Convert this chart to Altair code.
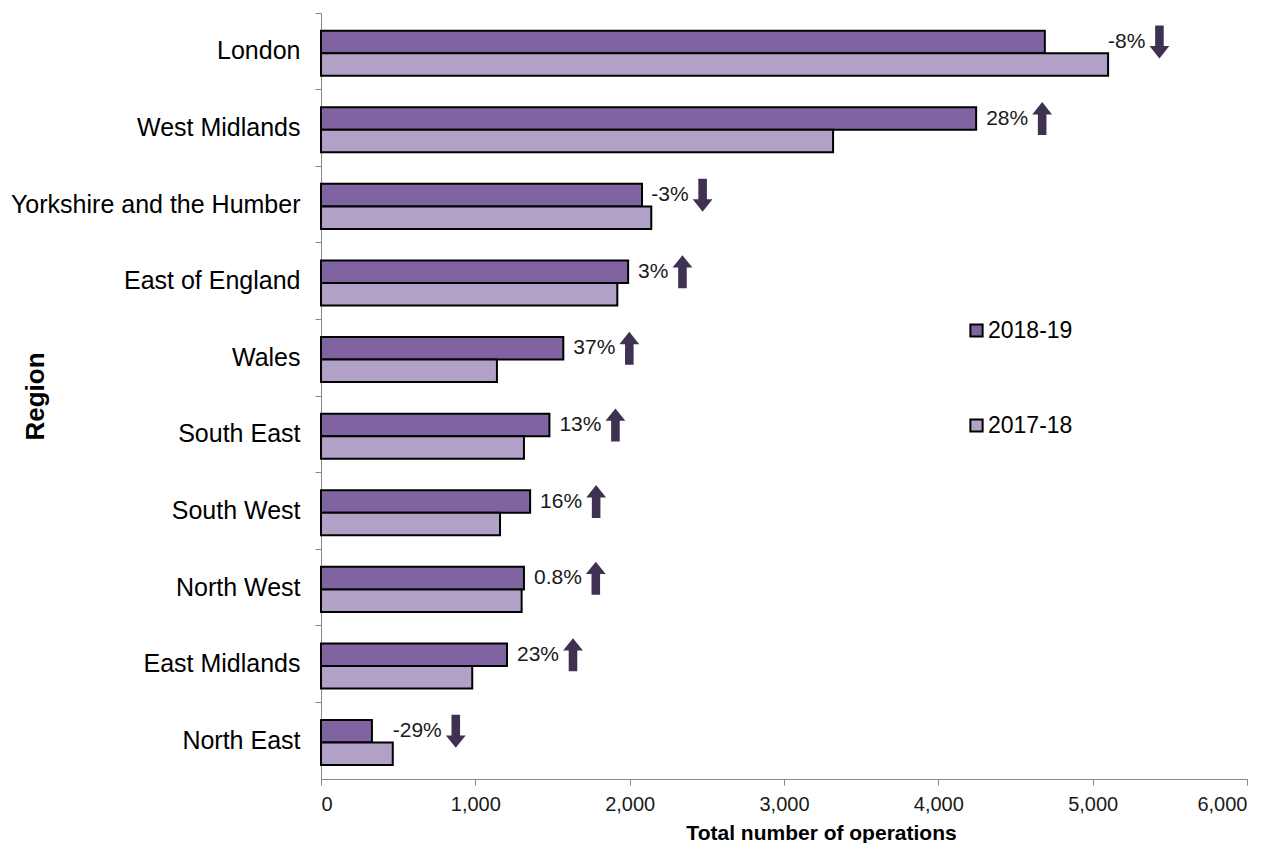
import altair as alt
import pandas as pd

regions = ["London", "West Midlands", "Yorkshire and the Humber", "East of England",
           "Wales", "South East", "South West", "North West", "East Midlands", "North East"]
ops_2018_19 = [4690, 4245, 2080, 1990, 1570, 1480, 1355, 1315, 1205, 330]
ops_2017_18 = [5100, 3318, 2140, 1920, 1140, 1315, 1160, 1300, 980, 465]
pct_labels = ["-8%", "28%", "-3%", "3%", "37%", "13%", "16%", "0.8%", "23%", "-29%"]
directions = ["down", "up", "down", "up", "up", "up", "up", "up", "up", "down"]
years = ["2018-19", "2017-18"]
colors = ["#8064A2", "#B2A1C7"]

FONT = "Liberation Sans"
W, H = 926, 766
XMAX = 6000

rows = []
for r, a, b in zip(regions, ops_2018_19, ops_2017_18):
    rows.append({"region": r, "year": years[0], "value": a})
    rows.append({"region": r, "year": years[1], "value": b})
bars_df = pd.DataFrame(rows)

# approximate label width (Arial metrics) to place the arrow after the text
char_w = {"-": 0.333, "%": 0.889, ".": 0.278}
def text_width(s, size=21):
    return sum(char_w.get(c, 0.556) for c in s) * size

lab_df = pd.DataFrame({
    "region": regions,
    "year": years[0],
    "v18": ops_2018_19,
    "v17": ops_2017_18,
    "label": pct_labels,
    "dir": directions,
})
lab_df["tw"] = [text_width(s) for s in pct_labels]

px = XMAX / W  # data units per pixel
calc = dict(
    maxv="max(datum.v18, datum.v17)",
    tx=f"max(datum.v18, datum.v17) + (datum.v18 >= datum.v17 ? 10 : 0) * {px}",
)
calc_ax = f"datum.tx + (datum.tw + 14) * {px}"

y_enc = alt.Y(
    "region:N", sort=regions, title="Region",
    scale=alt.Scale(paddingInner=0, paddingOuter=0),
    axis=alt.Axis(
        bandPosition=0, labelFont=FONT, labelFontSize=25, labelLimit=0,
        labelColor="#000000", labelPadding=15, tickSize=6, tickColor="#888888",
        domainColor="#888888", titleFont=FONT, titleFontSize=26, titleFontWeight="bold",
        titleColor="#000000", titleX=-286, titleY=383, titleAngle=270,
        titleAlign="center", titleBaseline="middle",
    ),
)
yoff = alt.YOffset("year:N", sort=years,
                   scale=alt.Scale(domain=years, paddingInner=0, paddingOuter=0.7, align=0.56))

x_scale = alt.Scale(domain=[0, XMAX], nice=False)

bars = alt.Chart(bars_df).mark_bar(stroke="#000000", strokeWidth=2).encode(
    x=alt.X("value:Q", scale=x_scale, title="Total number of operations",
            axis=alt.Axis(values=[0, 1000, 2000, 3000, 4000, 5000, 6000], format=",.0f",
                          grid=False, labelFont=FONT, labelFontSize=20, labelColor="#1a1a1a",
                          tickSize=6, tickColor="#888888", domainColor="#888888",
                          labelPadding=9, titleFont=FONT, titleFontSize=21,
                          titleFontWeight="bold", titleColor="#000000", titlePadding=8,
                          titleX=500)),
    y=y_enc,
    yOffset=yoff,
    color=alt.Color("year:N", scale=alt.Scale(domain=years, range=colors),
                    legend=alt.Legend(orient="none", legendX=644, legendY=306, title=None,
                                      symbolType="square", symbolSize=150,
                                      symbolStrokeColor="#000000", symbolStrokeWidth=2,
                                      labelFont=FONT, labelFontSize=23, labelColor="#000000",
                                      rowPadding=71, padding=0, labelOffset=0)),
)

text = alt.Chart(lab_df).transform_calculate(**calc).mark_text(
    align="left", baseline="middle", font=FONT, fontSize=21, color="#1a1a1a"
).encode(
    x=alt.X("tx:Q", scale=x_scale),
    y=alt.Y("region:N", sort=regions),
    yOffset=alt.YOffset("year:N", sort=years),
    text="label:N",
)

up_path = "M -0.26 1 L 0.26 1 L 0.26 -0.25 L 0.6 -0.25 L 0 -1 L -0.6 -0.25 L -0.26 -0.25 Z"
down_path = "M -0.26 -1 L 0.26 -1 L 0.26 0.25 L 0.6 0.25 L 0 1 L -0.6 0.25 L -0.26 0.25 Z"

arrows = alt.Chart(lab_df).transform_calculate(**calc).transform_calculate(
    ax=calc_ax
).mark_point(filled=True, color="#3F3151", opacity=1, size=1089, strokeWidth=0).encode(
    x=alt.X("ax:Q", scale=x_scale),
    y=alt.Y("region:N", sort=regions),
    yOffset=alt.YOffset("year:N", sort=years),
    shape=alt.Shape("dir:N", scale=alt.Scale(domain=["up", "down"], range=[up_path, down_path]),
                    legend=None),
)

chart = alt.layer(bars, text, arrows).properties(
    width=W, height=H,
    autosize=alt.AutoSizeParams(type="none"),
    padding={"left": 321, "top": 13, "right": 40, "bottom": 64},
    background="#ffffff",
).configure_view(stroke=None)

chart.save("out.html", embed_options={"renderer": "svg", "actions": False})
